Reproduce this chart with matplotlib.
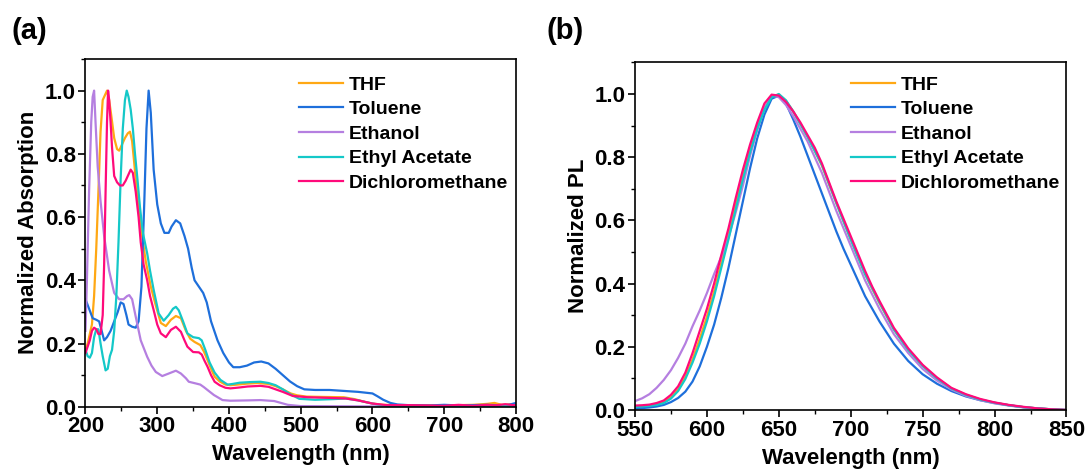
import matplotlib
matplotlib.use("Agg")
import matplotlib.pyplot as plt
from matplotlib.ticker import MultipleLocator

plt.rcParams['font.family'] = ['Liberation Sans', 'DejaVu Sans']
plt.rcParams['font.weight'] = 'bold'
plt.rcParams['axes.labelweight'] = 'bold'

names = ["THF", "Toluene", "Ethanol", "Ethyl Acetate", "Dichloromethane"]
colors = ["#FFA814", "#1E6FDB", "#B57FE0", "#14C8C8", "#FF0A7A"]

# ---------------- (a) absorption ----------------
thf_wl = [200, 203, 206, 209, 212, 215, 218, 221, 224, 227, 230, 233, 236, 240, 244, 247, 251, 255, 259, 262,
          265, 268, 272, 277, 284, 291, 298, 305, 312, 319, 326, 333, 340, 346, 352, 360, 365, 370, 375, 380,
          387, 395, 402, 412, 425, 440, 455, 465, 475, 486, 495, 508, 530, 560, 575, 590, 600, 615, 650, 700,
          740, 760, 770, 780, 800]
thf_abs = [.18, .20, .23, .26, .35, .50, .68, .87, .97, .985, 1.0, .97, .92, .85, .815, .81, .83, .85, .865, .87,
           .84, .77, .67, .57, .46, .38, .32, .265, .255, .275, .287, .28, .24, .215, .205, .195, .175, .148, .12, .095,
           .08, .07, .068, .07, .073, .075, .072, .065, .055, .042, .036, .032, .031, .03, .024, .015, .01, .006, .005, .004,
           .006, .009, .012, .006, .008]

tol_wl = [200, 205, 210, 215, 219, 222, 226, 230, 235, 240, 245, 249, 253, 257, 260, 265, 270, 274, 278, 282,
          285, 288, 291, 295, 300, 305, 310, 316, 320, 326, 332, 338, 343, 348, 352, 358, 364, 369, 375, 384,
          392, 400, 406, 415, 425, 435, 445, 455, 465, 475, 485, 495, 505, 520, 540, 560, 580, 600, 607, 615,
          625, 635, 650, 680, 700, 720, 740, 760, 780, 790, 800]
tol_abs = [.34, .31, .28, .275, .27, .245, .21, .22, .24, .27, .30, .33, .325, .29, .26, .253, .25, .27, .38, .65,
           .88, 1.0, .93, .75, .64, .58, .55, .55, .57, .59, .58, .54, .50, .44, .40, .38, .36, .33, .27, .21,
           .17, .14, .125, .125, .13, .14, .143, .137, .12, .10, .08, .065, .055, .053, .053, .05, .047, .042, .033, .022,
           .012, .007, .005, .004, .006, .004, .005, .006, .004, .006, .012]

eth_wl = [200, 202, 205, 208, 210, 212, 214, 217, 221, 226, 233, 240, 247, 253, 258, 261, 265, 270, 277, 286,
          292, 298, 307, 316, 326, 333, 340, 344, 353, 360, 365, 370, 379, 391, 402, 426, 444, 463, 482, 500,
          600, 800]
eth_abs = [.24, .40, .68, .90, .98, 1.0, .90, .76, .65, .54, .43, .36, .34, .34, .35, .353, .34, .285, .21, .158,
           .13, .11, .097, .105, .114, .105, .09, .079, .074, .07, .062, .053, .037, .021, .019, .02, .021, .018, .006, .002,
           .001, .001]

ea_wl = [200, 203, 206, 209, 212, 215, 218, 221, 224, 228, 231, 234, 237, 240, 243, 246, 249, 252, 255, 257.5,
         260, 263, 266, 269, 272, 276, 280, 286, 290, 295, 302, 309, 316, 322, 326, 330, 336, 342, 350, 358,
         362, 367, 373, 380, 388, 398, 405, 415, 430, 444, 455, 465, 475, 485, 498, 520, 545, 563, 580, 600,
         615, 630, 700, 800]
ea_abs = [.18, .16, .155, .17, .22, .245, .245, .20, .16, .115, .12, .16, .18, .24, .35, .52, .72, .88, .97, 1.0,
          .98, .94, .88, .80, .73, .63, .55, .485, .43, .37, .295, .272, .29, .31, .316, .305, .27, .232, .22, .217,
          .21, .18, .14, .108, .085, .07, .072, .076, .078, .079, .075, .068, .055, .04, .025, .022, .024, .026, .02, .01,
          .004, .002, .002, .002]

dcm_wl = [200, 203, 206, 209, 212, 215, 218, 221, 224, 226, 228, 230, 231.5, 233, 235, 237, 240, 244, 248, 252,
          256, 260, 263, 266, 270, 274, 277, 281, 286, 290, 295, 300, 305, 312, 319, 326, 333, 338, 342, 350,
          358, 362, 366, 370, 375, 380, 387, 395, 402, 415, 426, 444, 455, 465, 475, 489, 510, 540, 563, 580,
          600, 620, 650, 700, 720, 740, 760, 770, 785, 800]
dcm_abs = [.17, .19, .21, .24, .25, .245, .23, .23, .29, .45, .68, .90, 1.0, .97, .90, .82, .73, .71, .70, .70,
           .715, .735, .75, .74, .68, .60, .52, .45, .40, .35, .306, .26, .232, .22, .243, .253, .237, .21, .19, .173,
           .172, .165, .145, .127, .10, .079, .068, .06, .058, .061, .064, .066, .063, .055, .047, .034, .03, .028, .026, .02,
           .01, .005, .005, .003, .006, .003, .006, .004, .008, .004]

abs_wl = [thf_wl, tol_wl, eth_wl, ea_wl, dcm_wl]
abs_val = [thf_abs, tol_abs, eth_abs, ea_abs, dcm_abs]

# ---------------- (b) PL ----------------
pl_wl = [550, 555, 560, 565, 570, 575, 580, 585, 590, 595, 600, 605, 610, 615, 620, 625, 630, 635, 640, 645,
         650, 655, 660, 665, 670, 675, 680, 685, 690, 695, 700, 705, 710, 715, 720,
         730, 740, 750, 760, 770, 780, 790, 800, 810, 820, 830, 840, 850]
thf_pl = [.011, .012, .014, .018, .025, .04, .065, .105, .16, .225, .295, .375, .465, .555, .65, .745, .83, .90, .955, .993,
          .998, .978, .945, .905, .865, .82, .773, .713, .655, .597, .54, .485, .43, .383, .338,
          .255, .19, .14, .10, .068, .048, .033, .023, .015, .009, .005, .002, 0.0]
tol_pl = [.005, .006, .008, .011, .016, .025, .038, .058, .09, .138, .20, .27, .355, .45, .555, .66, .765, .86, .935, .985,
          .995, .97, .92, .865, .805, .745, .685, .625, .565, .51, .46, .41, .36, .32, .28,
          .21, .155, .113, .083, .06, .043, .031, .022, .015, .009, .005, .002, 0.0]
eth_pl = [.028, .037, .05, .07, .095, .126, .165, .21, .265, .315, .37, .43, .485, .545, .625, .71, .805, .885, .955, .995,
          .99, .965, .93, .89, .85, .80, .75, .69, .63, .575, .52, .465, .41, .365, .32,
          .24, .18, .13, .093, .065, .045, .031, .021, .014, .008, .004, .002, 0.0]
ea_pl = [.01, .011, .013, .016, .022, .036, .06, .098, .15, .21, .28, .36, .45, .54, .635, .73, .815, .89, .95, .99,
         1.0, .98, .945, .905, .865, .82, .775, .715, .655, .597, .54, .485, .43, .385, .34,
         .255, .19, .14, .10, .068, .048, .033, .023, .015, .009, .005, .002, 0.0]
dcm_pl = [.014, .015, .017, .022, .03, .048, .075, .118, .18, .25, .32, .40, .49, .575, .67, .76, .84, .91, .97, .998,
          .995, .975, .945, .91, .87, .83, .78, .72, .66, .605, .55, .495, .44, .39, .345,
          .26, .195, .143, .103, .07, .05, .035, .024, .016, .01, .005, .002, 0.0]
pl_val = [thf_pl, tol_pl, eth_pl, ea_pl, dcm_pl]

fig = plt.figure(figsize=(10.89, 4.72), dpi=100)
axa = fig.add_axes([0.0785, 0.1383, 0.3953, 0.7367])
axb = fig.add_axes([0.5831, 0.1314, 0.3962, 0.7364])

for n, c, w, v in zip(names, colors, abs_wl, abs_val):
    axa.plot(w, v, color=c, lw=1.6, label=n)
for n, c, v in zip(names, colors, pl_val):
    axb.plot(pl_wl, v, color=c, lw=1.6, label=n)

axa.set_xlim(200, 800)
axa.set_ylim(0, 1.1)
axa.xaxis.set_major_locator(MultipleLocator(100))
axa.xaxis.set_minor_locator(MultipleLocator(50))
axa.set_ylabel("Normalized Absorption", fontsize=16, fontweight='bold', labelpad=4)

axb.set_xlim(550, 850)
axb.set_ylim(0, 1.1)
axb.xaxis.set_major_locator(MultipleLocator(50))
axb.xaxis.set_minor_locator(MultipleLocator(25))
axb.set_ylabel("Normalized PL", fontsize=16, fontweight='bold', labelpad=4)

for ax in (axa, axb):
    ax.yaxis.set_major_locator(MultipleLocator(0.2))
    ax.yaxis.set_minor_locator(MultipleLocator(0.1))
    ax.set_xlabel("Wavelength (nm)", fontsize=16, fontweight='bold', labelpad=5)
    ax.tick_params(which='major', direction='out', length=5, width=1.2, labelsize=16, pad=2)
    ax.tick_params(which='minor', direction='out', length=3, width=1.0)
    ax.tick_params(top=False, right=False, which='both')
    for s in ax.spines.values():
        s.set_linewidth(1.2)
    for lab in ax.get_xticklabels() + ax.get_yticklabels():
        lab.set_fontweight('bold')

leg_kw = dict(loc='upper left', bbox_transform=fig.transFigure, frameon=False,
              handlelength=2.25, handletextpad=0.3, labelspacing=0.36,
              borderpad=0, borderaxespad=0, prop={'weight': 'bold', 'size': 14})
axa.legend(bbox_to_anchor=(0.2746, 0.839), **leg_kw)
axb.legend(bbox_to_anchor=(0.7815, 0.839), **leg_kw)

fig.text(0.011, 0.934, "(a)", fontsize=21, fontweight='bold', ha='left', va='center')
fig.text(0.502, 0.934, "(b)", fontsize=21, fontweight='bold', ha='left', va='center')

fig.savefig("out.png", dpi=100)
